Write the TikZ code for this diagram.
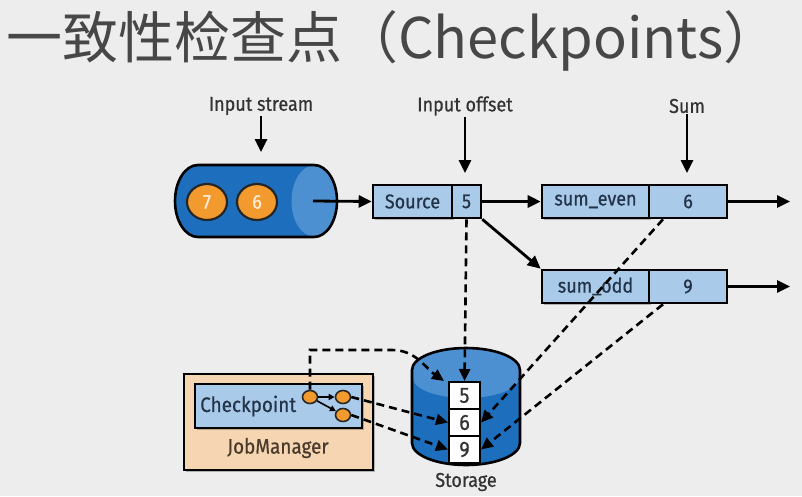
\documentclass[tikz,border=0pt]{standalone}
\usepackage{fontspec}
\setmainfont{Fira Sans}[FakeStretch=0.9, FakeBold=0.6]
\newfontfamily\cjk{Noto Sans CJK SC}
\usetikzlibrary{arrows.meta,shadows,calc,shapes.geometric}
\definecolor{bg}{HTML}{EDEDED}
\definecolor{titlegray}{HTML}{474747}
\definecolor{pipedark}{HTML}{1E6EBE}
\definecolor{pipelight}{HTML}{4C90D2}
\definecolor{boxblue}{HTML}{A9CAE8}
\definecolor{ballorange}{HTML}{F29A2E}
\definecolor{peach}{HTML}{F6D6B2}
\definecolor{txtnavy}{HTML}{23344A}
\definecolor{txtbrown}{HTML}{4A3A2C}
\definecolor{labgray}{HTML}{333333}
\begin{document}
\begin{tikzpicture}[x=1pt,y=-1pt,
  lab/.style={font=\fontsize{20}{22}\selectfont, text=labgray, inner sep=1pt},
  boxpart/.style={draw=black, line width=2.6pt, fill=boxblue, font=\fontsize{20}{22}\selectfont, text=txtnavy, inner sep=0pt},
  cell/.style={draw=black, line width=2pt, fill=white, minimum width=31pt, minimum height=27pt, inner sep=0pt, font=\fontsize{22}{22}\selectfont, text=black!80},
  ball/.style={draw=black!85, line width=2.2pt, fill=ballorange, ellipse, minimum width=40pt, minimum height=36pt, inner sep=0pt, font=\fontsize{20}{22}\selectfont, text=white!85!orange},
  dot/.style={draw=black!85, line width=1.6pt, fill=ballorange, ellipse, minimum width=15pt, minimum height=13pt, inner sep=0pt},
  arr/.style={line width=2.8pt, -{Triangle[length=13pt,width=12pt]}},
  darr/.style={line width=2.6pt, dash pattern=on 8pt off 5pt, -{Triangle[length=12pt,width=11pt]}},
  shad/.style={drop shadow={shadow xshift=2pt, shadow yshift=-2pt, fill=black, opacity=0.25}}
]
\fill[bg] (0,0) rectangle (802,496);
\useasboundingbox (0,0) rectangle (802,496);

% title
\node[anchor=base west, font=\cjk\fontsize{56}{60}\selectfont, text=titlegray, inner sep=0pt] (title) at (6,58) {一致性检查点（Checkpoints）};

% input pipe
\fill[pipedark] (198,165) -- (314,165) arc[start angle=-90, end angle=90, x radius=23, y radius=36] -- (198,237) arc[start angle=90, end angle=270, x radius=23, y radius=36] -- cycle;
\fill[pipelight] (314,201) ellipse[x radius=22.5, y radius=35.5];
\draw[black, line width=2.6pt] (198,165) -- (314,165) arc[start angle=-90, end angle=90, x radius=23, y radius=36] -- (198,237) arc[start angle=90, end angle=270, x radius=23, y radius=36] -- cycle;
\node[ball] (b7) at (207,202) {7};
\node[ball] (b6) at (257,202) {6};
\coordinate (pipeout) at (313,201);

% labels
\node[lab] (lin) at (261,106) {Input stream};
\node[lab] (loff) at (465,106) {Input offset};
\node[lab] (lsum) at (687,106) {Sum};
\coordinate (tin) at (261,152);
\coordinate (toff) at (465,173);
\coordinate (tsum) at (687,173);

% operator boxes
\node[boxpart, shad, minimum width=79pt, minimum height=33pt] (src) at (412.5,201.5) {Source};
\node[boxpart, minimum width=29pt, minimum height=33pt] (src5) at (466.5,201.5) {5};
\node[boxpart, shad, minimum width=107pt, minimum height=33pt] (sev) at (595.5,201.5) {sum\_even};
\node[boxpart, minimum width=78pt, minimum height=33pt] (sev6) at (688,201.5) {6};
\node[boxpart, shad, minimum width=107pt, minimum height=33pt] (sod) at (595.5,286.5) {sum\_odd};
\node[boxpart, minimum width=78pt, minimum height=33pt] (sod9) at (688,286.5) {9};
\coordinate (oev) at (790,201.5);
\coordinate (ood) at (790,286.5);

% storage cylinder
\fill[pipedark] (412,370) arc[start angle=180, end angle=360, x radius=54, y radius=22] -- (520,443) arc[start angle=0, end angle=180, x radius=54, y radius=22] -- cycle;
\fill[pipelight] (413,370) arc[start angle=180, end angle=360, x radius=53, y radius=21] -- (519,378) arc[start angle=0, end angle=180, x radius=53, y radius=20] -- cycle;
\draw[black, line width=2.6pt] (412,370) arc[start angle=180, end angle=360, x radius=54, y radius=22] -- (520,443) arc[start angle=0, end angle=180, x radius=54, y radius=22] -- cycle;
\node[cell] (c5) at (464.5,395.5) {5};
\node[cell] (c6) at (464.5,422.5) {6};
\node[cell] (c9) at (464.5,449.5) {9};
\node[lab, text=black!80] (lsto) at (466,482) {Storage};

% job manager
\node[draw=black, line width=2.6pt, fill=peach, shad, minimum width=189pt, minimum height=96pt, inner sep=0pt] (jm) at (278.5,422) {};
\node[lab, text=txtbrown, font=\fontsize{21}{22}\selectfont] (jmt) at (278,448) {JobManager};
\node[boxpart, shad, minimum width=167pt, minimum height=44pt] (cp) at (278.5,406) {};
\node[lab, text=txtnavy, anchor=west, font=\fontsize{21}{22}\selectfont] (cpt) at (199,406) {Checkpoint};
\node[dot] (d0) at (310,397) {};
\node[dot] (d1) at (343,397) {};
\node[dot] (d2) at (343,415) {};
\draw[line width=1.6pt, -{Triangle[length=6pt,width=6pt]}] (d0) -- (d1);
\draw[line width=1.6pt, -{Triangle[length=6pt,width=6pt]}] (d0) -- (d2);

% solid arrows
\draw[arr] (lin) -- (tin);
\draw[arr] (loff) -- (toff);
\draw[arr] (lsum) -- (tsum);
\draw[arr] (pipeout) -- (src.west);
\draw[arr] (src5.east) -- (sev.west);
\draw[arr] (src5.south east) -- (sod.north west);
\draw[arr] (sev6.east) -- (oev);
\draw[arr] (sod9.east) -- (ood);

% dashed checkpoint arrows
\draw[darr] (src5.south) -- (c5.north);
\draw[darr] (d0.north) |- (392,350) to[out=0,in=145] ([xshift=-4pt]c5.north west);
\draw[darr] (d1.east) -- (c6.west);
\draw[darr] (d2.east) -- (c9.west);
\draw[darr] ([xshift=-25pt]sev6.south) -- (c6.east);
\draw[darr] ([xshift=-25pt]sod9.south) -- (c9.east);
\end{tikzpicture}
\end{document}
